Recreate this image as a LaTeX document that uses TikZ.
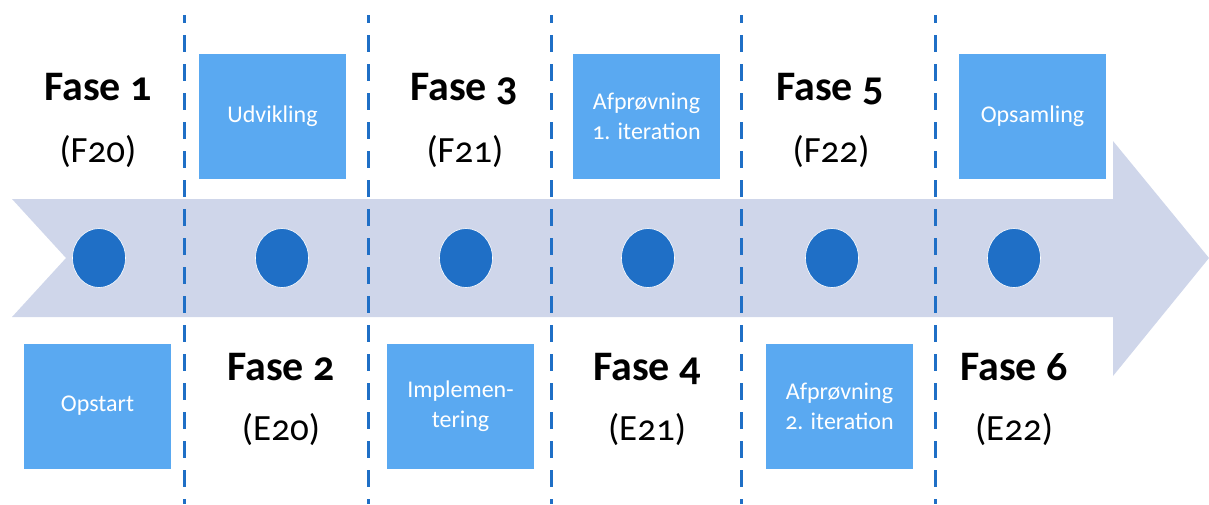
\documentclass[tikz,border=0pt]{standalone}
\usepackage{fontspec}
\setmainfont{Carlito}[Numbers=OldStyle]
\usetikzlibrary{shapes.geometric}
\definecolor{bandcol}{HTML}{CFD6EA}
\definecolor{dotcol}{HTML}{1F6FC6}
\definecolor{boxcol}{HTML}{5AA9F1}
\tikzset{
  phase/.style={anchor=base, font=\fontsize{42}{46}\selectfont\bfseries, inner sep=0pt},
  term/.style={anchor=base, font=\fontsize{37}{42}\selectfont, inner sep=0pt},
  stage/.style={fill=boxcol, draw=none, minimum width=147pt, minimum height=125pt,
    inner sep=0pt, text=white, align=center, font=\fontsize{24}{30}\selectfont},
  dot/.style={ellipse, fill=dotcol, draw=white, line width=0.6pt,
    minimum width=53pt, minimum height=59pt, inner sep=0pt},
  divider/.style={dotcol, line width=3pt, dash pattern=on 17pt off 12pt, dash phase=9pt},
}
\begin{document}
\begin{tikzpicture}[x=1pt, y=-1pt]
\useasboundingbox (0,0) rectangle (1209,504);

% timeline arrow
\fill[bandcol] (12,199) -- (1113,199) -- (1113,141) -- (1209,258)
  -- (1113,376) -- (1113,317) -- (12,317) -- (66,258) -- cycle;

% dashed dividers between the phases
\foreach \x/\n in {184/a,368/b,551/c,741/d,935/e} {
  \coordinate (\n top) at (\x,15);
  \coordinate (\n bot) at (\x,504);
  \draw[divider] (\n top) -- (\n bot);
}

% milestones on the timeline
\node[dot] (m1) at (99,258) {};
\node[dot] (m2) at (282,258) {};
\node[dot] (m3) at (466,258) {};
\node[dot] (m4) at (648,258) {};
\node[dot] (m5) at (832,258) {};
\node[dot] (m6) at (1014,258) {};

% activity boxes
\node[stage] (udv) at (272.5,116.5) {Udvikling};
\node[stage] (afp1) at (646.5,116.5) {Afprøvning\\1. iteration};
\node[stage] (ops) at (1032.5,116.5) {Opsamling};
\node[stage] (opst) at (97.5,406) {Opstart};
\node[stage] (impl) at (460.5,406) {Implemen-\\tering};
\node[stage] (afp2) at (839.5,406) {Afprøvning\\2. iteration};

% phase labels
\node[phase] (f1) at (98,100) {Fase 1};
\node[term] (t1) at (98,162) {(F20)};
\node[phase] (f3) at (464,100) {Fase 3};
\node[term] (t3) at (465,162) {(F21)};
\node[phase] (f5) at (830,100) {Fase 5};
\node[term] (t5) at (831,162) {(F22)};
\node[phase] (f2) at (281,380) {Fase 2};
\node[term] (t2) at (281,440) {(E20)};
\node[phase] (f4) at (647,380) {Fase 4};
\node[term] (t4) at (647,440) {(E21)};
\node[phase] (f6) at (1014,380) {Fase 6};
\node[term] (t6) at (1014,440) {(E22)};
\end{tikzpicture}
\end{document}
